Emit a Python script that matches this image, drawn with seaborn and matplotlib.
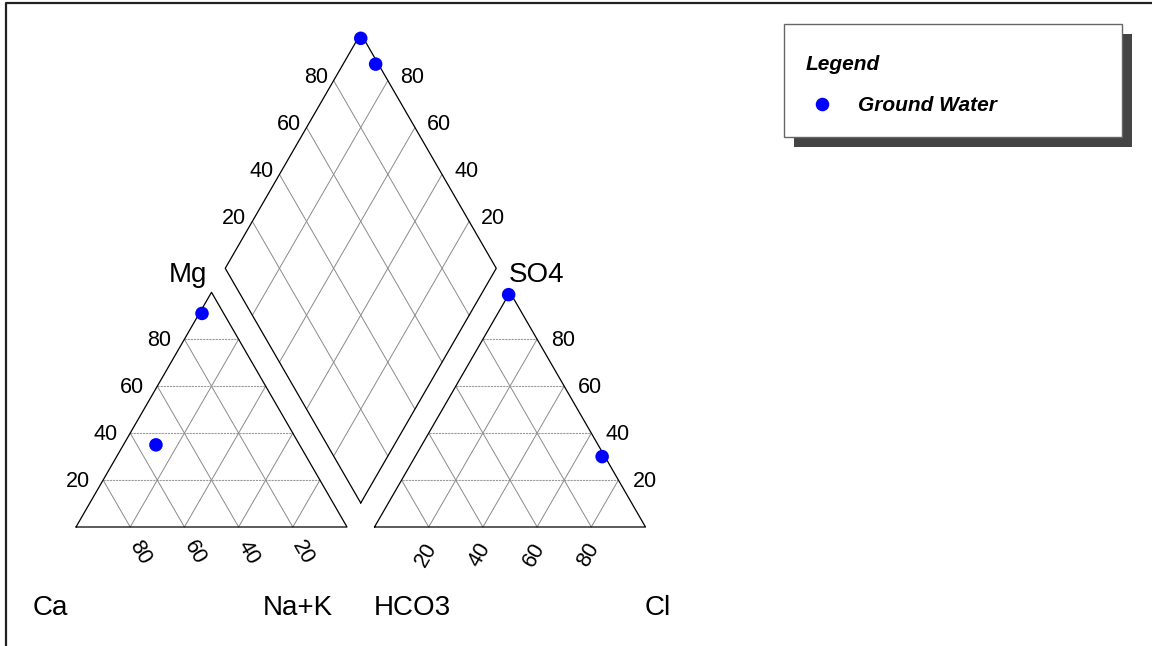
import numpy as np
import pandas as pd
import seaborn as sns
import matplotlib.pyplot as plt
from matplotlib.patches import Rectangle

# Sample compositions (% meq)
SAMPLES = ["GW-1", "GW-2"]
CA = [8, 53]
MG = [91, 35]
NAK = [1, 12]
HCO3 = [1, 1]
CL = [0, 69]
SO4 = [99, 30]
SERIES = "Ground Water"

TICKS = [20, 40, 60, 80]

# layout (pixel space of the 1152x646 figure)
W, H_FIG = 1152, 646
SIDE = 271.0
HT = SIDE * np.sqrt(3) / 2
BASE_Y = 527.0
CAT_X0 = 76.0
AN_X0 = 374.5
DIA_X = (CAT_X0 + SIDE + AN_X0) / 2
DIA_Y = 503.0

LINE = "black"
GRID = "#8a8a8a"
BLUE = "#0000FF"


def tri_xy(x0, right, up):
    right = np.asarray(right, float)
    up = np.asarray(up, float)
    return x0 + SIDE * (right + up / 2), BASE_Y - HT * up


def dia_xy(an, cat):
    an = np.asarray(an, float)
    cat = np.asarray(cat, float)
    return DIA_X + SIDE / 2 * (an - cat), DIA_Y - HT * (an + cat)


def draw_triangle(ax, x0):
    xs, ys = tri_xy(x0, [0, 1, 0, 0], [0, 0, 1, 0])
    ax.plot(xs, ys, color=LINE, lw=0.9, zorder=3)
    for t in TICKS:
        v = t / 100
        # horizontal
        x, y = tri_xy(x0, [0, 1 - v], [v, v])
        ax.plot(x, y, color="#9a9a9a", lw=0.8, ls=(0, (2, 0.8)), zorder=2)
        # parallel to left side
        x, y = tri_xy(x0, [v, v], [0, 1 - v])
        ax.plot(x, y, color=GRID, lw=0.7, zorder=2)
        # parallel to right side
        x, y = tri_xy(x0, [1 - v, 0], [0, 1 - v])
        ax.plot(x, y, color=GRID, lw=0.7, zorder=2)


def draw_diamond(ax):
    xs, ys = dia_xy([0, 1, 1, 0, 0], [0, 0, 1, 1, 0])
    ax.plot(xs, ys, color=LINE, lw=0.9, zorder=3)
    for t in TICKS:
        v = t / 100
        x, y = dia_xy([v, v], [0, 1])
        ax.plot(x, y, color=GRID, lw=0.7, zorder=2)
        x, y = dia_xy([0, 1], [v, v])
        ax.plot(x, y, color=GRID, lw=0.7, zorder=2)


def main():
    sns.set_theme(style="white")
    plt.rcParams["font.family"] = ["Liberation Sans", "DejaVu Sans"]
    plt.rcParams["text.color"] = "black"

    fig = plt.figure(figsize=(W / 100, H_FIG / 100), dpi=100)
    ax = fig.add_axes([0, 0, 1, 1])
    ax.set_xlim(0, W)
    ax.set_ylim(H_FIG, 0)
    ax.axis("off")

    # outer frame (left and top edges visible)
    ax.plot([6, 6, W], [H_FIG, 3, 3], color="#222222", lw=1.6, zorder=1)

    draw_triangle(ax, CAT_X0)
    draw_triangle(ax, AN_X0)
    draw_diamond(ax)

    tick_fs = 15.5
    for t in TICKS:
        v = t / 100
        # cation: Mg on left side
        x, y = tri_xy(CAT_X0, 0, v)
        ax.text(x - 13, y + 1, str(t), fontsize=tick_fs, ha="right", va="center")
        # cation: Ca along base
        x, y = tri_xy(CAT_X0, 1 - v, 0)
        ax.text(x + 10, y + 26, str(t), fontsize=tick_fs, ha="center", va="center",
                rotation=-60, rotation_mode="anchor")
        # anion: SO4 on right side
        x, y = tri_xy(AN_X0, 1 - v, v)
        ax.text(x + 14, y + 1, str(t), fontsize=tick_fs, ha="left", va="center")
        # anion: Cl along base
        x, y = tri_xy(AN_X0, v, 0)
        ax.text(x - 3, y + 28, str(t), fontsize=tick_fs, ha="center", va="center",
                rotation=60, rotation_mode="anchor")
        # diamond upper edges
        x, y = dia_xy(v, 1)
        ax.text(x - 6, y - 3, str(t), fontsize=tick_fs, ha="right", va="center")
        x, y = dia_xy(1, v)
        ax.text(x + 12, y - 3, str(t), fontsize=tick_fs, ha="left", va="center")

    lab_fs = 20
    ax.text(207, 282, "Mg", fontsize=lab_fs, ha="right", va="baseline")
    ax.text(509, 282, "SO4", fontsize=lab_fs, ha="left", va="baseline")
    ax.text(33, 615, "Ca", fontsize=lab_fs, ha="left", va="baseline")
    ax.text(333, 615, "Na+K", fontsize=lab_fs, ha="right", va="baseline")
    ax.text(374, 615, "HCO3", fontsize=lab_fs, ha="left", va="baseline")
    ax.text(645, 615, "Cl", fontsize=lab_fs, ha="left", va="baseline")

    # project samples
    cx, cy = tri_xy(CAT_X0, np.array(NAK) / 100, np.array(MG) / 100)
    axx, ayy = tri_xy(AN_X0, np.array(CL) / 100, np.array(SO4) / 100)
    dx, dy = dia_xy((np.array(SO4) + np.array(CL)) / 100,
                    (np.array(CA) + np.array(MG)) / 100)
    pts = pd.DataFrame({
        "x": np.concatenate([cx, axx, dx]),
        "y": np.concatenate([cy, ayy, dy]),
        "series": [SERIES] * (3 * len(SAMPLES)),
    })
    sns.scatterplot(data=pts, x="x", y="y", hue="series", palette=[BLUE],
                    s=95, edgecolor="none", linewidth=0, ax=ax, zorder=5)

    # legend box with shadow
    ax.add_patch(Rectangle((794, 34), 338, 113, facecolor="#444444",
                           edgecolor="none", zorder=6))
    ax.add_patch(Rectangle((784, 24), 338, 113, facecolor="white",
                           edgecolor="#666666", lw=1.0, zorder=7))
    leg = ax.legend(loc="upper left", bbox_to_anchor=(789, 38),
                    bbox_transform=ax.transData, frameon=False,
                    title="Legend", alignment="left",
                    prop={"size": 15, "weight": "bold", "style": "italic"},
                    title_fontproperties={"size": 15, "weight": "bold",
                                          "style": "italic"},
                    handlelength=1.6, handletextpad=0.9, labelspacing=1.08,
                    borderpad=0.3, markerscale=1.0)
    leg.set_zorder(8)
    for txt in leg.get_texts():
        txt.set_color("black")
    leg.get_title().set_color("black")
    ax.set_xlabel("")
    ax.set_ylabel("")

    fig.savefig("out.png", dpi=100)
    plt.close(fig)


if __name__ == "__main__":
    main()
